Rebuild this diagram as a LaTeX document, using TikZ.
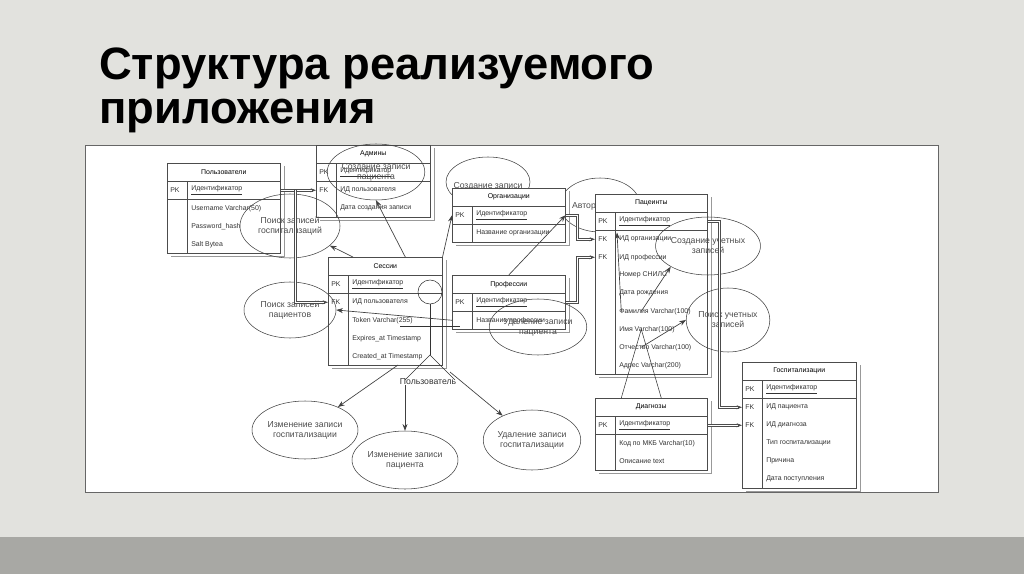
\documentclass[tikz,border=0pt]{standalone}
\usepackage{fontspec}
\setmainfont{Liberation Sans}
\usetikzlibrary{calc,arrows.meta,shapes.geometric}
\definecolor{slidebg}{HTML}{E2E2DE}
\definecolor{band}{HTML}{A8A8A4}
\tikzset{
 hdr/.style={draw=black!70,font=\fontsize{5.2}{6}\selectfont,minimum height=13.5,inner sep=0pt,fill=white},
 rowb/.style={minimum height=13.5,inner sep=0pt},
 cell/.style={font=\fontsize{5.2}{6}\selectfont,inner sep=0pt,text=black!80},
 uc/.style={draw=black!75,ellipse,font=\fontsize{6.5}{7.5}\selectfont,align=center,text=black!70,inner sep=0pt},
 lnk/.style={draw=black!75,-{Stealth[length=5pt]},line width=0.5pt},
 fk/.style={draw=black!70,-{Stealth[length=4pt]},line width=0.5pt,double distance=1pt},
}
\newcommand{\ertabb}[6]{%
 \node[hdr,minimum width=#4*0.75,anchor=north west] (#1) at (#2,#3) {#5};
 \foreach \k/\t [count=\i] in {#6}{%
   \node[rowb,minimum width=#4*0.75,anchor=north west] (#1-\i) at ($(#2,#3)+(0,18*\i)$) {};
   \node[cell,anchor=west] at ($(#1-\i.west)+(3,0)$) {\k};
   \node[cell,anchor=west] at ($(#1-\i.west)+(24,0)$) {\t};
   \xdef\lastrow{\i}%
 }
 \draw[black!70] ($(#1.south west)$) rectangle ($(#1-\lastrow.south east)$);
 \draw[black!70] ($(#1.south west)+(20,0)$) -- ($(#1-\lastrow.south west)+(20,0)$);
 \draw[black!70] (#1-1.south west) -- (#1-1.south east);
 \draw[black!40] ($(#1.north east)+(4,3)$) -- ($(#1-\lastrow.south east)+(4,3)$) -- ($(#1-\lastrow.south west)+(4,3)$);
}
\begin{document}
\begin{tikzpicture}[x=0.75pt,y=-0.75pt]
\useasboundingbox (0,0) rectangle (1024,574);
\fill[slidebg] (0,0) rectangle (1024,574);
\fill[band] (0,537) rectangle (1024,574);
\node[anchor=north west,font=\bfseries\fontsize{34}{33}\selectfont,align=left,inner sep=0pt] (title) at (99,48) {Структура реализуемого\\приложения};
\fill[white] (85,145) rectangle (938,492);
\draw[black!60] (85,145) rectangle (938,492);

% use cases partly behind tables
\node[uc,minimum width=84*0.75,minimum height=50*0.75] (u4) at (488,182) {};
\node[cell,font=\fontsize{6.5}{7.5}\selectfont,text=black!70] at (488,186) {Создание записи};
\node[uc,minimum width=80*0.75,minimum height=54*0.75] (u5) at (600,205) {};
\node[cell,font=\fontsize{6.5}{7.5}\selectfont,text=black!70] at (584,206) {Автор};

\fill[white] (452,188) rectangle (565,245);
\fill[white] (595,194) rectangle (707,380);

\ertabb{pol}{167}{163}{113}{Пользователи}{PK/\underline{Идентификатор},{}/Username Varchar(50),{}/Password\_hash,{}/Salt Bytea}
\ertabb{adm}{316}{145}{114}{Админы}{PK/\underline{Идентификатор},FK/ИД пользователя,{}/Дата создания записи}
\ertabb{ses}{328}{257}{114}{Сессии}{PK/\underline{Идентификатор},FK/ИД пользователя,{}/Token Varchar(255),{}/Expires\_at Timestamp,{}/Created\_at Timestamp}
\ertabb{org}{452}{188}{113}{Организации}{PK/\underline{Идентификатор},{}/Название организации}
\ertabb{prof}{452}{275}{113}{Профессии}{PK/\underline{Идентификатор},{}/Название профессии}
\ertabb{pac}{595}{194}{112}{Пацеинты}{PK/\underline{Идентификатор},FK/ИД организации,FK/ИД профессии,{}/Номер СНИЛС,{}/Дата рождения,{}/Фамилия Varchar(100),{}/Имя Varchar(100),{}/Отчество Varchar(100),{}/Адрес Varchar(200)}
\ertabb{diag}{595}{398}{112}{Диагнозы}{PK/\underline{Идентификатор},{}/Код по МКБ Varchar(10),{}/Описание text}
\ertabb{gosp}{742}{362}{114}{Госпитализации}{PK/\underline{Идентификатор},FK/ИД пациента,FK/ИД диагноза,{}/Тип госпитализации,{}/Причина,{}/Дата поступления}

% use cases
\node[uc,minimum width=96*0.75,minimum height=56*0.75] (u1) at (376,172) {Создание записи\\пациента};
\node[uc,minimum width=100*0.75,minimum height=64*0.75] (u2) at (290,226) {Поиск записей\\госпитализаций};
\node[uc,minimum width=92*0.75,minimum height=56*0.75] (u3) at (290,310) {Поиск записей\\пациентов};
\node[uc,minimum width=90*0.75,minimum height=56*0.75] (u6) at (538,327) {Удаление записи\\пациента};
\node[uc,minimum width=78*0.75,minimum height=58*0.75] (u7) at (708,246) {Создание учетных\\записей};
\node[uc,minimum width=82*0.75,minimum height=64*0.75] (u8) at (728,320) {Поиск учетных\\записей};
\node[uc,minimum width=92*0.75,minimum height=58*0.75] (u9) at (305,430) {Изменение записи\\госпитализации};
\node[uc,minimum width=86*0.75,minimum height=58*0.75] (u10) at (405,460) {Изменение записи\\пациента};
\node[uc,minimum width=92*0.75,minimum height=60*0.75] (u11) at (532,440) {Удаление записи\\госпитализации};

% actor
\node[draw=black!80,circle,minimum size=24*0.75,inner sep=0pt] (head) at (430,292) {};
\coordinate (hip) at (430,355);
\draw[black!80] (head.south) -- (hip);
\draw[black!80] (400,326) -- (460,326);
\coordinate (lf) at (405,380);
\coordinate (rf) at (455,380);
\draw[black!80] (lf) -- (hip) -- (rf);
\node[cell,font=\fontsize{6.5}{7.5}\selectfont,text=black!80] (act) at (428,382) {Пользователь};

% actor links
\draw[lnk] ($(ses.north west)+(25,0)$) -- (u2);
\draw[lnk] ($(ses.north)+(20,0)$) -- (u1.south);
\draw[lnk] (ses.north east) -- (org-1.west);
\draw[lnk] (prof.north) -- (org-1.east);
\draw[lnk] (prof-2.west) -- (u3.east);
\draw[lnk] (398,365) -- (u9);
\draw[lnk] (405,385) -- (u10.north);
\draw[lnk] (450,372) -- (u11);
\draw[lnk] ($(pac-6.center)+(-10,0)$) -- (u7.south west);
\draw[lnk] ($(pac-8.center)+(-10,0)$) -- (u8.west);
\draw[lnk] ($(pac-6.center)+(-30,0)$) -- ($(pac-1.south west)+(22,2)$);
% fk links
\draw[fk] (pol-1.east) -- (adm-2.west);
\draw[fk] ($(pol-1.east)+(15,0)$) -- ++(0,112) -- (ses-2.west);
\draw[fk] (org-1.east) -- ++(12,0) |- (pac-2.west);
\draw[fk] (prof-1.east) -- ++(12,0) |- (pac-3.west);
\draw[fk] (pac-1.east) -- ++(12,0) |- (gosp-2.west);
\draw[fk] (diag-1.east) -- ++(8,0) |- (gosp-3.west);
\draw[black!80] ($(diag.north)+(-30,0)$) -- ($(pac-7.center)+(-10,0)$) -- ($(diag.north)+(10,0)$);
\end{tikzpicture}
\end{document}
